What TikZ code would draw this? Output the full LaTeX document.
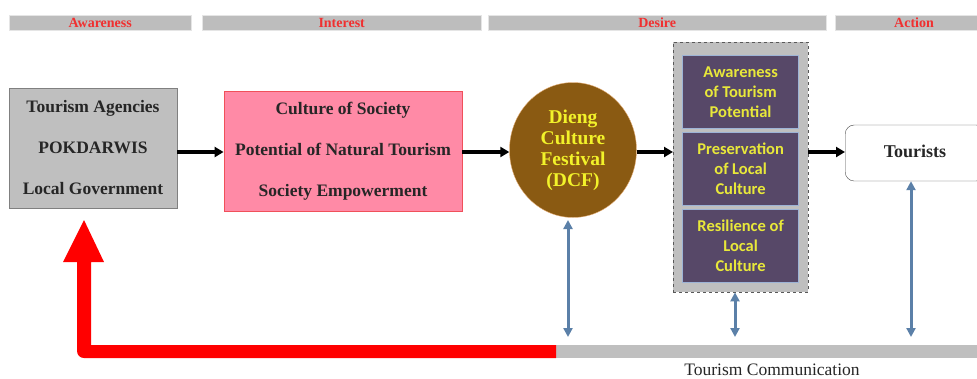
\documentclass[tikz,border=0pt]{standalone}
\usepackage{fontspec}
\setmainfont{Liberation Serif}
\newfontfamily\boxsans{Carlito}
\usetikzlibrary{shapes.geometric,arrows.meta}
\definecolor{hdrgray}{HTML}{BDBDBD}
\definecolor{hdrred}{HTML}{F03030}
\definecolor{srcgray}{HTML}{BFBFBF}
\definecolor{pinkfill}{HTML}{FF8AA6}
\definecolor{pinkline}{HTML}{F0505A}
\definecolor{dcfbrown}{HTML}{8A5A12}
\definecolor{dcfyellow}{HTML}{F2F22A}
\definecolor{purplefill}{HTML}{574868}
\definecolor{purpleline}{HTML}{9DB3D6}
\definecolor{boxyellow}{HTML}{E8E83A}
\definecolor{linkblue}{HTML}{5B80A8}
\definecolor{feedred}{HTML}{FF0000}
\tikzset{
  hdr/.style={draw=white!90!black, fill=hdrgray, minimum height=15pt, inner sep=0pt, text=hdrred, font=\bfseries\fontsize{14}{14}\selectfont, anchor=north west},
  mainbox/.style={draw, align=center, inner sep=0pt, font=\bfseries\fontsize{17.5}{41}\selectfont, text=black!85},
  subbox/.style={draw=purpleline, fill=purplefill, line width=1.2pt, minimum width=116pt, minimum height=73pt, align=center, inner sep=0pt, text=boxyellow, font=\boxsans\bfseries\fontsize{16.5}{20}\selectfont, anchor=north west},
  flow/.style={-{Triangle[length=9pt,width=10pt]}, line width=3.5pt, black},
  link/.style={{Triangle[length=9pt,width=9pt]}-{Triangle[length=9pt,width=9pt]}, line width=3pt, linkblue},
}
\begin{document}
\begin{tikzpicture}[x=1pt,y=-1pt]
\useasboundingbox (0,0) rectangle (977,378);
% header bars
\node[hdr, minimum width=182pt] (haw) at (9,15) {Awareness};
\node[hdr, minimum width=279pt] (hin) at (202,15) {Interest};
\node[hdr, minimum width=338pt] (hde) at (488,15) {Desire};
\node[hdr, minimum width=150pt, text width=142pt, align=left] (hac) at (835,15) {\hspace{55pt}Action};
% main boxes
\node[mainbox, draw=gray, fill=srcgray, minimum width=168pt, minimum height=120pt] (src) at (93,148)
  {Tourism Agencies\\POKDARWIS\\Local Government};
\node[mainbox, draw=pinkline, fill=pinkfill, line width=0.8pt, minimum width=238pt, minimum height=120pt] (int) at (343,151)
  {Culture of Society\\Potential of Natural Tourism\\Society Empowerment};
\node[ellipse, draw=orange!40!brown!60, fill=dcfbrown, minimum width=127pt, minimum height=135pt, inner sep=0pt, align=center, text=dcfyellow, font=\bfseries\fontsize{19.5}{21}\selectfont] (dcf) at (573,150)
  {Dieng\\Culture\\Festival\\(DCF)};
% desire group
\node[draw=gray!70!black, dashed, fill=srcgray, minimum width=135pt, minimum height=250pt, anchor=north west, inner sep=0pt] (grp) at (673,42) {};
\node[subbox] (s1) at (682,55) {Awareness\\of Tourism\\Potential};
\node[subbox] (s2) at (682,132) {Preservation\\of Local\\Culture};
\node[subbox] (s3) at (682,209) {Resilience of\\Local\\Culture};
% tourists
\node[draw=black!70, rounded corners=9pt, fill=white, minimum width=140pt, minimum height=56pt, anchor=west, inner sep=0pt] (tour) at (845,153) {};
\node[font=\bfseries\fontsize{18}{20}\selectfont, text=black!85] (tourtxt) at (915,151) {Tourists};
% bottom communication bar
\node[fill=srcgray, minimum width=421pt, minimum height=13pt, inner sep=0pt, anchor=north west] (comm) at (556,345) {};
\node[font=\fontsize{17.5}{18}\selectfont, text=black!85] (commtxt) at (772,370) {Tourism Communication};
% red feedback arrow
\fill[feedred] (556,345) -- (91,345) -- (91,262) -- (104,262) -- (84,220) -- (63,262) -- (77,262)
  [rounded corners=7pt] -- (77,358) [sharp corners] -- (556,358) -- cycle;
\coordinate (fb) at (84,220);
% flow arrows
\draw[flow] (src.east |- 0,152) -- (int.west |- 0,152);
\draw[flow] (int.east |- 0,152) -- (dcf.west |- 0,152);
\draw[flow] (dcf.east |- 0,152) -- (grp.west |- 0,152);
\draw[flow] (grp.east |- 0,152) -- (tour.west |- 0,152);
% blue links
\draw[link] (568,220) -- (568,337);
\draw[link] (grp.south -| 735,0) -- (735,337);
\draw[link] (tour.south -| 911,0) -- (911,337);
\end{tikzpicture}
\end{document}
